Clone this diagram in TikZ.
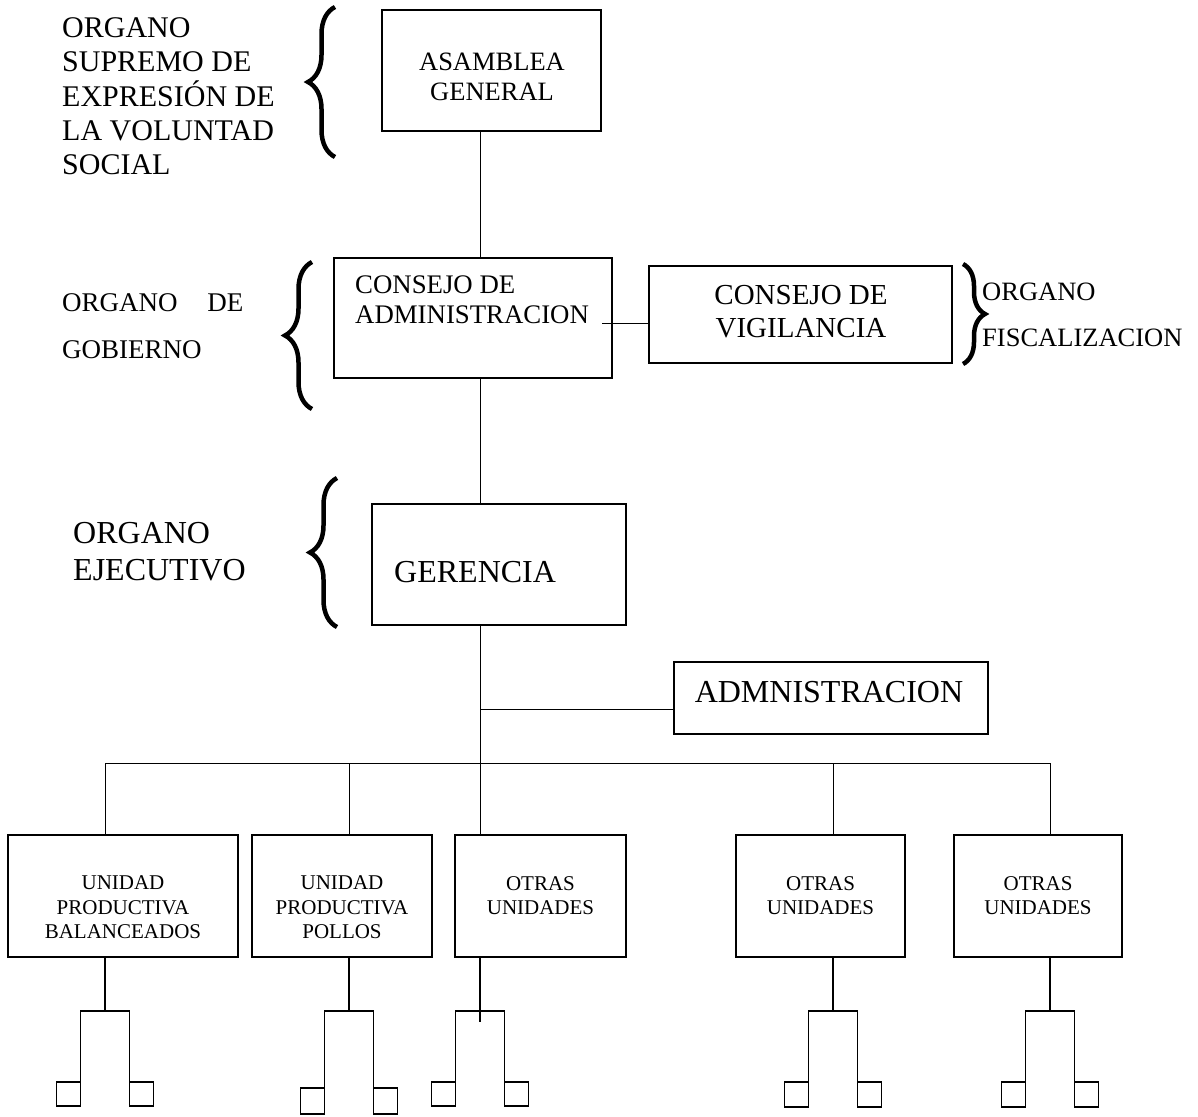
\documentclass[tikz,border=0pt]{standalone}
\usepackage{fontspec}
\setmainfont{Liberation Serif}
\usetikzlibrary{decorations.pathreplacing}
\newcommand{\tam}[2]{\fontsize{#1}{#2}\selectfont}
\newcommand{\horq}[4]{\draw[rama] (#1-24.5,#4) -- (#1-24.5,#2) -- (#1+24.5,#2) -- (#1+24.5,#4);
  \draw[rama] (#1-48.5,#3) rectangle (#1-24.5,#4);
  \draw[rama] (#1+24.5,#3) rectangle (#1+48.5,#4); }

\begin{document}
\begin{tikzpicture}[x=1pt,y=-1pt,every node/.style={inner sep=0pt},
  caja/.style={draw,line width=1.5pt},
  linea/.style={line width=1pt},
  rama/.style={line width=1.3pt},
  llave/.style={decorate,decoration={brace,amplitude=27pt},line width=4.5pt}]
  \useasboundingbox (0,0) rectangle (1198,1116);
  % cajas superiores
  \node[caja,minimum width=219pt,minimum height=121pt] (asamblea) at (491.5,70.5) {};
  \node[align=center,font=\tam{26.5}{30}] (asamblea-t) at (492,77) {ASAMBLEA\\GENERAL};
  \node[caja,minimum width=278pt,minimum height=120pt] (consejo) at (473,318) {};
  \node[align=left,anchor=west,font=\tam{26.8}{30}] (consejo-t) at (355,300) {CONSEJO DE\\ADMINISTRACION};
  \node[caja,minimum width=303pt,minimum height=97pt] (vigilancia) at (800.5,314.5) {};
  \node[align=center,font=\tam{29}{33}] (vigilancia-t) at (801,311.5) {CONSEJO DE\\VIGILANCIA};
  \node[caja,minimum width=254pt,minimum height=121pt] (gerencia) at (499,564.5) {};
  \node[anchor=west,font=\tam{32}{36}] (gerencia-t) at (394,572) {GERENCIA};
  \node[caja,minimum width=314pt,minimum height=72pt] (admin) at (831,698) {};
  \node[font=\tam{32}{36}] (admin-t) at (829,692) {ADMNISTRACION};
  % organos
  \node[align=left,anchor=west,font=\tam{30}{34.3}] (supremo) at (62,96.5) {ORGANO\\SUPREMO DE\\EXPRESIÓN DE\\LA VOLUNTAD\\SOCIAL};
  \node[align=left,anchor=west,font=\tam{27}{47}] (gobierno) at (62,326.5) {ORGANO\hspace{23pt} DE\\GOBIERNO};
  \node[align=left,anchor=west,font=\tam{32}{37}] (ejecutivo) at (73,551.5) {ORGANO\\EJECUTIVO};
  \node[align=left,anchor=west,font=\tam{26.5}{46}] (fiscal) at (982,315) {ORGANO\\FISCALIZACION};
  \draw[llave] (335,157) -- (335,7);
  \draw[llave] (312,409) -- (312,262);
  \draw[llave] (337,627) -- (337,478);
  \draw[llave,decoration={amplitude=22pt}] (963,264) -- (963,364);
  % unidades
  \foreach \n/\cx/\w/\ty/\txt in {1/123/230/907.5/{UNIDAD\\PRODUCTIVA\\BALANCEADOS},
      2/342/180/907.5/{UNIDAD\\PRODUCTIVA\\POLLOS},3/540.5/171/895.5/{OTRAS\\UNIDADES},
      4/820.5/169/895.5/{OTRAS\\UNIDADES},5/1038/168/895.5/{OTRAS\\UNIDADES}} {
    \node[caja,minimum width=\w pt,minimum height=122pt] (u\n) at (\cx,896) {};
    \node[align=center,font=\tam{21}{24.5}] (u\n-t) at (\cx,\ty) {\txt};
  }
  % lineas
  \coordinate (eje) at (480,0);
  \coordinate (bus) at (480,763);
  \coordinate (busL) at (105,763);
  \coordinate (busR) at (1050,763);
  \coordinate (rama-adm) at (480,709);
  \coordinate (enlace) at (602,323);
  \draw[linea] (asamblea.south -| eje) -- (consejo.north -| eje);
  \draw[linea] (consejo.south -| eje) -- (gerencia.north -| eje);
  \draw[linea] (gerencia.south -| eje) -- (bus);
  \draw[linea] (rama-adm) -- (admin.west |- rama-adm);
  \draw[linea] (enlace) -- (vigilancia.west |- enlace);
  \draw[linea] (busL) -- (busR);
  \foreach \n/\sx/\fy in {1/105/1011,2/349/1011,3/480/1022,4/833/1011,5/1050/1011} {
    \draw[linea] (busL -| \sx,0) -- (u\n.north -| \sx,0);
    \draw[rama] (u\n.south -| \sx,0) -- (\sx,\fy);
  }
  \horq{105}{1011}{1082}{1106}
  \horq{349}{1011}{1088}{1114}
  \horq{480}{1011}{1082}{1106}
  \horq{833}{1011}{1082}{1107}
  \horq{1050}{1011}{1082}{1107}
\end{tikzpicture}
\end{document}
